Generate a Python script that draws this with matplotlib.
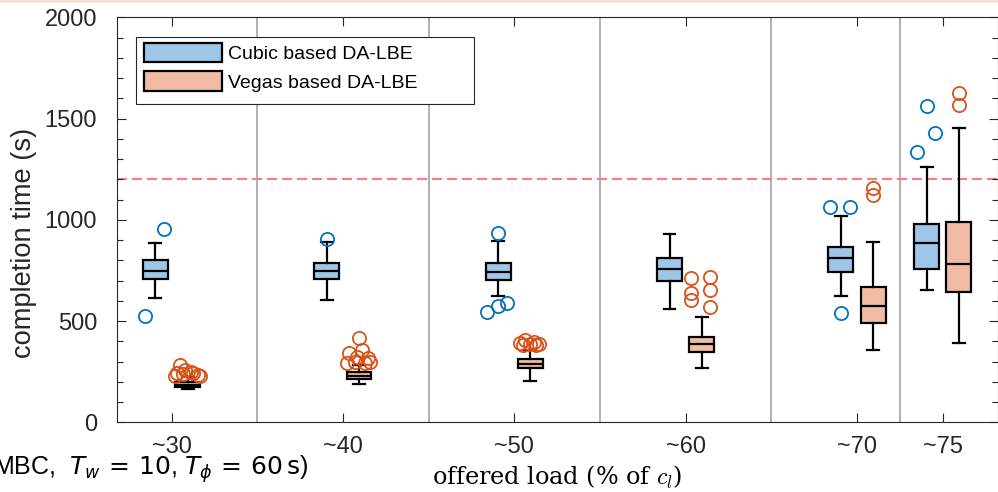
import matplotlib.pyplot as plt
from matplotlib.patches import Patch, Rectangle
from matplotlib.ticker import MultipleLocator

loads = [30, 40, 50, 60, 70, 75]
tick_labels = ['~30', '~40', '~50', '~60', '~70', '~75']
separators = [35, 45, 55, 65, 72.5]
deadline = 1200

# box statistics (s)
cubic_whislo = [615, 604, 624, 558, 625, 652]
cubic_q1 = [709, 709, 703, 699, 744, 757]
cubic_med = [749, 747, 741, 756, 810, 884]
cubic_q3 = [801, 788, 785, 813, 867, 979]
cubic_whishi = [884, 892, 895, 930, 1020, 1259]

vegas_whislo = [162, 187, 204, 270, 357, 390]
vegas_q1 = [176, 212, 266, 345, 489, 645]
vegas_med = [186, 230, 288, 385, 576, 782]
vegas_q3 = [197, 246, 311, 423, 670, 988]
vegas_whishi = [222, 283, 358, 522, 889, 1452]

cubic_outliers = [[953, 527], [905], [933, 591, 574, 546], [],
                  [1062, 1062, 538], [1562, 1427, 1336]]
vegas_outliers = [[283, 258, 250, 245, 242, 238, 234, 230, 228],
                  [415, 357, 344, 324, 316, 299, 296, 294, 291],
                  [405, 398, 392, 388, 385, 382, 380],
                  [711, 640, 604, 719, 653, 571],
                  [1156, 1122], [1628, 1567]]

# horizontal jitter of the outlier circles (x units)
cubic_jitter = [[0.52, -0.58], [0.0], [0.0, 0.52, 0.0, -0.64], [],
                [-0.64, 0.52, 0.0], [0.0, 0.52, -0.58]]
vegas_jitter = [[-0.47, -0.17, 0.17, 0.29, -0.64, -0.29, 0.58, -0.76, 0.7],
                [0.0, 0.17, -0.58, -0.12, 0.52, -0.23, 0.64, -0.7, 0.35],
                [-0.29, 0.23, -0.58, 0.0, 0.52, -0.41, 0.35],
                [-0.62, -0.62, -0.62, 0.49, 0.49, 0.49],
                [0.0, 0.0], [0.0, 0.0]]

blue_fill = '#9dc6e8'
red_fill = '#f0bba2'
blue_edge = '#0072bd'
red_edge = '#d95319'
dark = '#262626'
offset = 0.94
width = 1.45


def make_stats(lo, q1, med, q3, hi):
    return [dict(whislo=a, q1=b, med=c, q3=d, whishi=e, fliers=[])
            for a, b, c, d, e in zip(lo, q1, med, q3, hi)]


fig = plt.figure(figsize=(9.98, 4.92), dpi=100)
fig.add_artist(Rectangle((0, 1 - 2.5 / 492), 1, 2.5 / 492, transform=fig.transFigure,
                         color='#fbe4cf', lw=0))
ax = fig.add_axes([0.1169, 0.1417, 0.8826, 0.8231])

for s in separators:
    ax.axvline(s, color='#9c9c9c', lw=1.1, zorder=0.5)
ax.axhline(deadline, color='#ff7b7b', lw=1.5, ls=(0, (4.8, 2.4)), zorder=1)

line_kw = dict(color='black', lw=1.6)
for stats, sign, fill in [(make_stats(cubic_whislo, cubic_q1, cubic_med, cubic_q3, cubic_whishi), -1, blue_fill),
                          (make_stats(vegas_whislo, vegas_q1, vegas_med, vegas_q3, vegas_whishi), 1, red_fill)]:
    ax.bxp(stats, positions=[x + sign * offset for x in loads], widths=width,
           capwidths=0.7, patch_artist=True, showfliers=False, manage_ticks=False,
           boxprops=dict(facecolor=fill, edgecolor='black', lw=1.6),
           whiskerprops=line_kw, capprops=line_kw, medianprops=line_kw, zorder=2)

for outs, jit, sign, col in [(cubic_outliers, cubic_jitter, -1, blue_edge),
                             (vegas_outliers, vegas_jitter, 1, red_edge)]:
    for x, vals, js in zip(loads, outs, jit):
        xs = [x + sign * offset + j for j in js]
        ax.plot(xs, vals, 'o', mfc='none', mec=col, ms=9.5, mew=1.3, zorder=3)

ax.set_xlim(26.8, 78.2)
ax.set_ylim(0, 2000)
ax.set_xticks(loads)
ax.set_xticklabels(tick_labels)
ax.yaxis.set_major_locator(MultipleLocator(500))
ax.yaxis.set_minor_locator(MultipleLocator(100))
ax.tick_params(axis='both', which='both', direction='in', top=True, right=True,
               colors=dark, labelsize=17, labelfontfamily='Liberation Sans')
ax.tick_params(axis='both', which='major', length=6.7, width=0.8)
ax.tick_params(axis='y', which='minor', length=4.3, width=0.8)
ax.tick_params(axis='x', which='major', pad=10)
ax.tick_params(axis='y', which='major', pad=14)
for sp in ax.spines.values():
    sp.set_color(dark)
    sp.set_linewidth(0.8)

fig.text(24 / 998, 1 - 243 / 492, 'completion time (s)', rotation=90, ha='center', va='center',
         fontsize=19.6, family='Liberation Sans', color=dark)
fig.text(557 / 998, 1 - 477 / 492, r'offered load (% of $c_l$)', ha='center', va='center',
         fontsize=17.2, family='serif', math_fontfamily='cm', color='black')
fig.text(-7 / 998, 1 - 475 / 492,
         r'MBC,  $T_w \,=\, 10$, $T_\phi \,=\, 60\,\mathrm{s}$)', ha='left',
         va='baseline', fontsize=18, family='Liberation Sans', math_fontfamily='dejavusans',
         color='black')

# legend frame (wider than its entries, as in the original)
ax.add_patch(Rectangle((0.0222, 0.785), 0.3838, 0.1656, transform=ax.transAxes,
                       facecolor='white', edgecolor=dark, lw=0.8, zorder=4))
handles = [Patch(facecolor=blue_fill, edgecolor='black', lw=1.6, label='Cubic based DA-LBE'),
           Patch(facecolor=red_fill, edgecolor='black', lw=1.6, label='Vegas based DA-LBE')]
leg = ax.legend(handles=handles, loc='upper left', bbox_to_anchor=(0.031, 0.9365),
                prop=dict(family='Liberation Sans', size=14), frameon=False,
                handlelength=4.0, handleheight=1.16, borderaxespad=0, borderpad=0,
                handletextpad=0.3, labelspacing=0.41)
leg.set_zorder(5)

fig.savefig('out.png', dpi=100)
